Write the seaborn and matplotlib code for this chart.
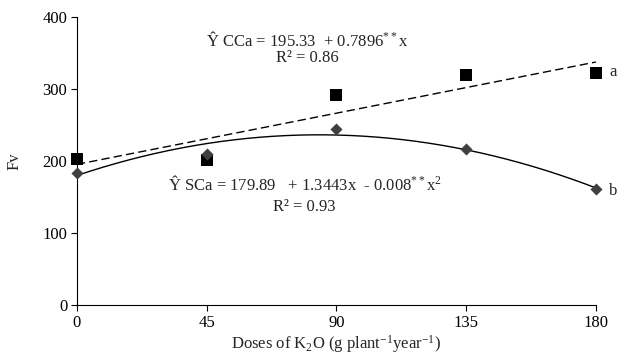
import numpy as np
import pandas as pd
import matplotlib
matplotlib.use("Agg")
import matplotlib.pyplot as plt
import seaborn as sns

sns.set_theme(style="ticks")
plt.rcParams["font.family"] = ["Liberation Serif", "DejaVu Serif"]
plt.rcParams["mathtext.fontset"] = "custom"
plt.rcParams["mathtext.rm"] = "Liberation Serif"
plt.rcParams["mathtext.it"] = "Liberation Serif:italic"

# K2O doses (g plant-1 year-1)
doses = [0, 45, 90, 135, 180]
# Fv with calcium (CCa) and without calcium (SCa)
fv_cca = [203, 201, 291, 319, 322]
fv_sca = [184, 210, 245, 217, 161]

# Regression coefficients (intercept, linear, quadratic)
coef_cca = [195.33, 0.7896, 0.0]
coef_sca = [179.89, 1.3443, -0.008]

x_ticks = [0, 45, 90, 135, 180]
y_ticks = [0, 100, 200, 300, 400]

xs = np.linspace(0, 180, 200)
fit = pd.DataFrame({
    "x": xs,
    "cca": coef_cca[0] + coef_cca[1] * xs + coef_cca[2] * xs ** 2,
    "sca": coef_sca[0] + coef_sca[1] * xs + coef_sca[2] * xs ** 2,
})
obs = pd.DataFrame({"dose": doses, "cca": fv_cca, "sca": fv_sca})

fig = plt.figure(figsize=(6.2, 3.61), dpi=100)
ax = fig.add_axes([0.124, 0.155, 0.837, 0.798])

sns.lineplot(data=fit, x="x", y="cca", ax=ax, color="black", lw=1.0,
             linestyle=(0, (6, 3)))
sns.lineplot(data=fit, x="x", y="sca", ax=ax, color="black", lw=1.0)
sns.scatterplot(data=obs, x="dose", y="cca", ax=ax, marker="s", s=85,
                color="black", edgecolor="black", linewidth=0, zorder=5,
                clip_on=False)
sns.scatterplot(data=obs, x="dose", y="sca", ax=ax, marker="D", s=38,
                color="#404040", edgecolor="#404040", linewidth=0, zorder=6,
                clip_on=False)

ax.set_xlim(0, 180)
ax.set_ylim(0, 400)
ax.set_xticks(x_ticks)
ax.set_yticks(y_ticks)
ax.tick_params(axis="both", direction="out", length=4, width=0.8,
               colors="black", labelsize=12, pad=3)
for s in ["top", "right"]:
    ax.spines[s].set_visible(False)
for s in ["left", "bottom"]:
    ax.spines[s].set_color("black")
    ax.spines[s].set_linewidth(0.8)

ax.set_xlabel(r"Doses of K$_2$O (g plant$^{-1}$year$^{-1}$)", fontsize=12,
              labelpad=2)
ax.set_ylabel("Fv", fontsize=12, labelpad=14)

ax.text(80, 368, r"Ŷ CCa = 195.33  + 0.7896$^{**}$x", ha="center",
        va="center", fontsize=12)
ax.text(80, 343, r"R² = 0.86", ha="center", va="center", fontsize=12)
ax.text(79, 167, r"Ŷ SCa = 179.89   + 1.3443x  - 0.008$^{**}$x$^{2}$",
        ha="center", va="center", fontsize=12)
ax.text(79, 136, r"R² = 0.93", ha="center", va="center", fontsize=12)

ax.text(186, 323, "a", ha="center", va="center", fontsize=12, clip_on=False)
ax.text(186, 158, "b", ha="center", va="center", fontsize=12, clip_on=False)

fig.savefig("out.png", dpi=100)
